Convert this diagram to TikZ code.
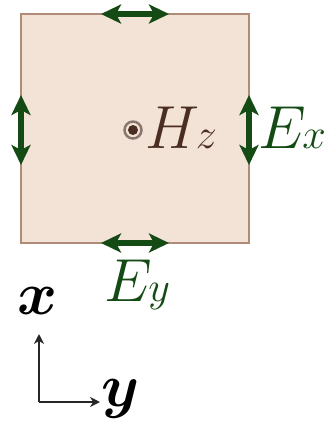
\documentclass[tikz,border=0pt]{standalone}
\usepackage{amsmath,bm}
\usetikzlibrary{arrows.meta, positioning}
\definecolor{cellfill}{HTML}{F3E2D6}
\definecolor{celldraw}{HTML}{B08B78}
\definecolor{fieldgreen}{HTML}{144A14}
\definecolor{hbrown}{HTML}{4A2E22}

\begin{document}
\begin{tikzpicture}[
  x=0.01cm, y=-0.01cm,
  cell/.style={rectangle, draw=celldraw, fill=cellfill, line width=0.6pt,
               minimum width=2.28cm, minimum height=2.29cm, inner sep=0pt},
  darr/.style={{Stealth[length=2mm,width=1.9mm,inset=0.5mm]}-{Stealth[length=2mm,width=1.9mm,inset=0.5mm]},
               line width=1.6pt, fieldgreen},
  lbl/.style={font=\fontsize{17.5}{21}\selectfont, inner sep=0pt},
  axarr/.style={-{Stealth[length=1mm,width=1mm]}, line width=0.55pt, black!85}
]
\useasboundingbox (0,0) rectangle (323,429);

% === Unit cell ===
\node[cell] (cell) at (135,128.5) {};

% === Field labels ===
\node[lbl, hbrown] (Hz) at (181,128) {$H\mkern-1mu{\scriptstyle z}$};
\node[circle, draw=hbrown!65, line width=0.7pt, minimum size=1.7mm,
      inner sep=0pt] (dot) at (133,130) {};
\fill[hbrown] (dot.center) circle (0.5mm);
\node[lbl, fieldgreen] (Ex) at (292,128) {$E\mkern-1mu{\scriptstyle x}$};
\node[lbl, fieldgreen] (Ey) at (137,285) {$E\mkern-1mu{\scriptstyle y}$};

% === Tangential E arrows on the edges ===
\coordinate (tA) at (101,14);  \coordinate (tB) at (169,14);
\coordinate (bA) at (101,243); \coordinate (bB) at (169,243);
\coordinate (lA) at (21,95);   \coordinate (lB) at (21,165);
\coordinate (rA) at (249,95);  \coordinate (rB) at (249,165);
\draw[darr] (tA) -- (tB);
\draw[darr] (bA) -- (bB);
\draw[darr] (lA) -- (lB);
\draw[darr] (rA) -- (rB);

% === Axes ===
\coordinate (o) at (39,402);
\coordinate (xt) at (39,334);
\coordinate (yt) at (100,402);
\node[lbl] (xl) at (38,301) {$\bm{x}$};
\node[lbl] (yl) at (121,399) {$\bm{y}$};
\draw[axarr] (o) -- (xt);
\draw[axarr] (o) -- (yt);

\end{tikzpicture}
\end{document}
